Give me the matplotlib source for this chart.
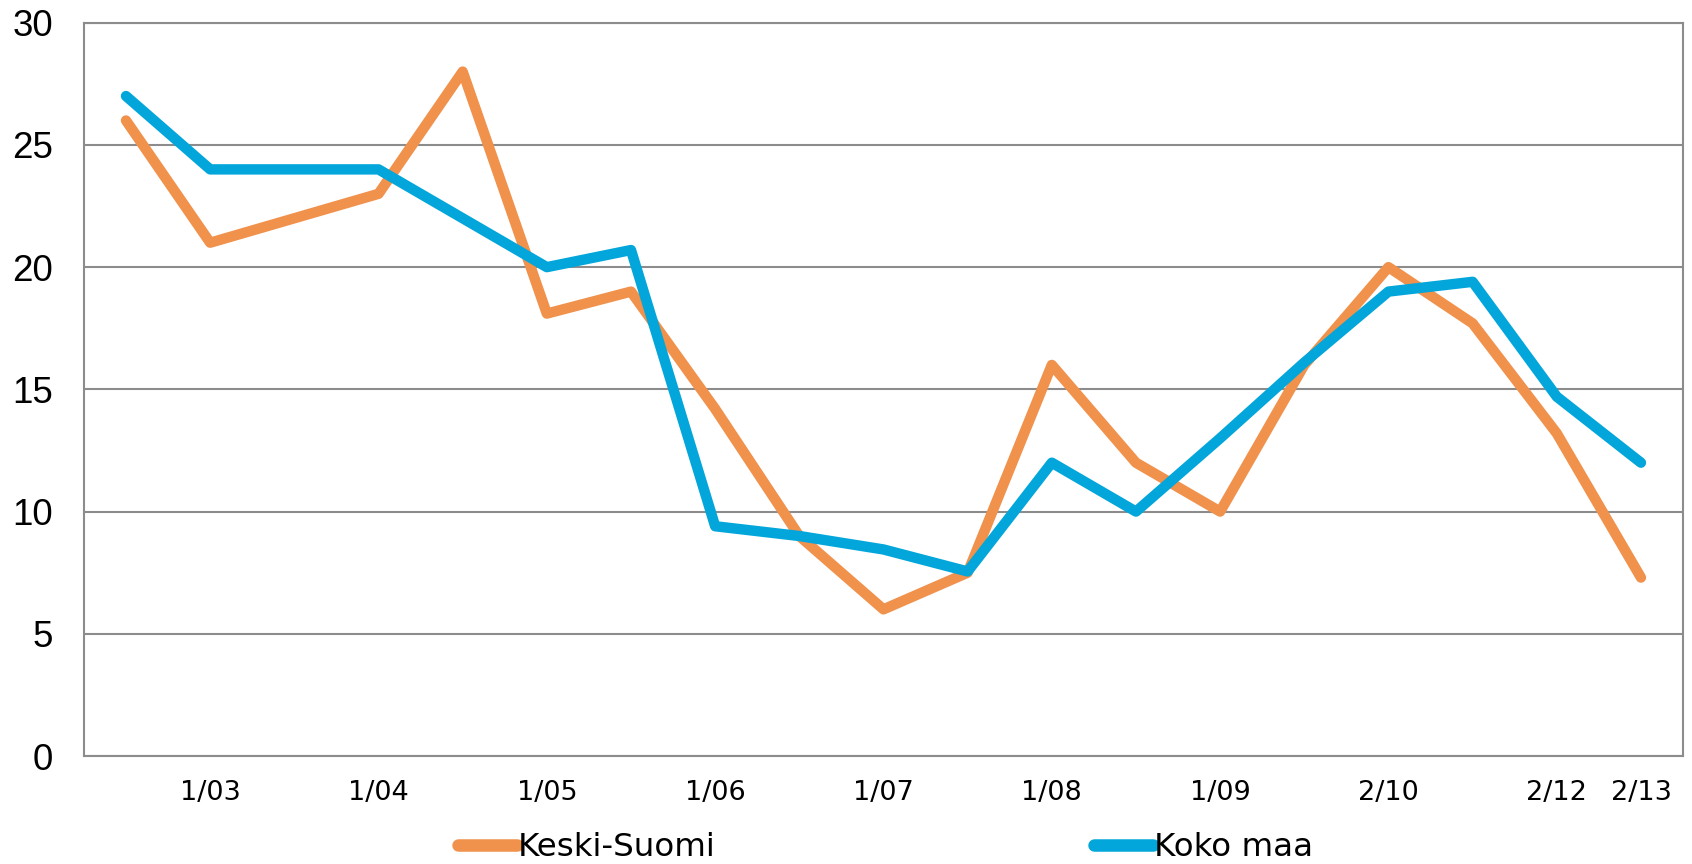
import numpy as np
import matplotlib
matplotlib.use('Agg')
import matplotlib.pyplot as plt
from matplotlib.lines import Line2D

# categories (only every other one carries a label)
labels = ['', '1/03', '', '1/04', '', '1/05', '', '1/06', '', '1/07',
          '', '1/08', '', '1/09', '', '2/10', '', '2/12', '2/13']

keski_suomi = [26, 21, 22, 23, 28, 18.1, 19, 14.2, 9, 6, 7.5,
               16, 12, 10, 16, 20, 17.7, 13.2, 7.3]
koko_maa = [27, 24, 24, 24, 22, 20, 20.7, 9.4, 9, 8.45, 7.55,
            12, 10, 13, 16.1, 19, 19.4, 14.7, 12]

orange = '#F0914C'
blue = '#02A6DA'
grey = '#8C8C8C'

plt.rcParams['font.family'] = ['DejaVu Sans']

fig = plt.figure(figsize=(16.92, 8.64), dpi=100)
ax = fig.add_axes([0.0496, 0.125, 0.9451, 0.8487])

x = np.arange(len(labels))
ax.plot(x, keski_suomi, color=orange, lw=7.5,
        solid_capstyle='round', solid_joinstyle='round', zorder=3)
ax.plot(x, koko_maa, color=blue, lw=7.5,
        solid_capstyle='round', solid_joinstyle='round', zorder=4)

ax.set_xlim(-0.5, len(labels) - 0.5)
ax.set_ylim(0, 30)
ax.set_yticks(range(0, 31, 5))
ax.set_xticks(x)
ax.set_xticklabels(labels)
for t in ax.get_yticklabels():
    t.set_family(['Liberation Sans', 'DejaVu Sans'])

ax.grid(axis='y', color=grey, lw=1.5)
ax.set_axisbelow(True)
for s in ax.spines.values():
    s.set_color(grey)
    s.set_linewidth(1.5)

ax.tick_params(axis='y', length=0, pad=22, labelsize=26.5)
ax.tick_params(axis='x', length=0, pad=17, labelsize=19.5)

# legend entries, placed separately like the original
h1 = Line2D([], [], color=orange, lw=9, solid_capstyle='round')
h2 = Line2D([], [], color=blue, lw=9, solid_capstyle='round')
for h, name, xpos in [(h1, 'Keski-Suomi', 458 / 1692), (h2, 'Koko maa', 1094 / 1692)]:
    fig.legend([h], [name], loc='center left', bbox_to_anchor=(xpos, 1 - 848 / 864),
               frameon=False, fontsize=23.4, handlelength=1.8, handletextpad=0.05,
               borderpad=0, borderaxespad=0)

fig.savefig('out.png', dpi=100)
